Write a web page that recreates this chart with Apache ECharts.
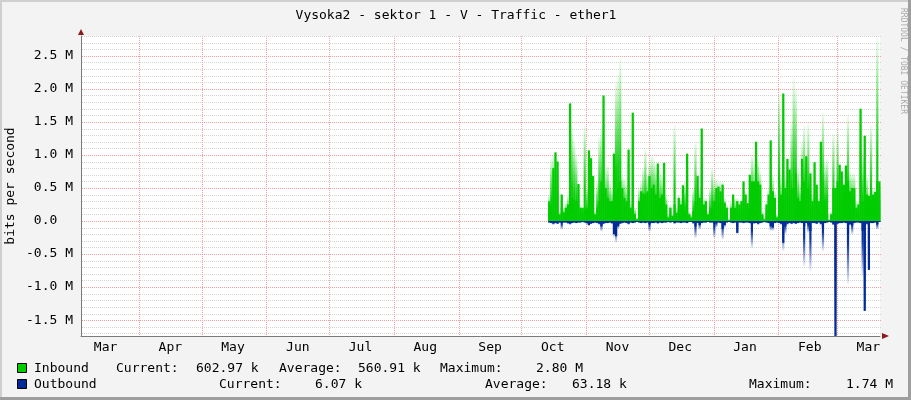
<!DOCTYPE html>
<html>
<head>
<meta charset="utf-8">
<title>Vysoka2 - sektor 1 - V - Traffic - ether1</title>
<script src="https://cdn.jsdelivr.net/npm/echarts@6/dist/echarts.min.js"></script>
<style>
    html, body { margin: 0; padding: 0; background: #f3f3f3; }
    #chart { width: 911px; height: 400px; }
</style>
</head>
<body>
<div id="chart"></div>
<script>
// x axis is counted in days from 1 March
const monthNames = ['Mar', 'Apr', 'May', 'Jun', 'Jul', 'Aug', 'Sep', 'Oct', 'Nov', 'Dec', 'Jan', 'Feb', 'Mar'];
const monthStartDays = [0, 31, 61, 92, 122, 153, 184, 214, 245, 275, 306, 337, 365];
const yTickValues = [-1.5, -1.0, -0.5, 0, 0.5, 1.0, 1.5, 2.0, 2.5];

const xStartDay = 3.25;
const xEndDay = 385.6;
const yMin = -1.74;
const yMax = 2.80;
const dataStartDay = 227.3; // first daily sample (mid October)

// values in Mbit/s, one per day
const inAvg = [
    0.30, 0.25, 0.80, 1.04, 0.90, 0.10, 0.40, 0.13, 0.20, 0.25,
    1.78, 0.35, 0.32, 0.30, 0.56, 0.20, 0.20, 0.17, 0.20, 1.07,
    0.95, 0.68, 0.10, 0.20, 0.30, 0.60, 1.90, 0.50, 0.35, 0.30,
    0.30, 1.02, 0.40, 0.50, 0.60, 0.50, 0.35, 0.30, 1.08, 0.20,
    1.64, 0.10, 0.02, 0.30, 0.45, 0.42, 0.40, 0.45, 0.68, 0.50,
    0.55, 0.40, 0.87, 0.35, 0.40, 0.88, 0.25, 0.05, 0.20, 0.08,
    0.25, 0.12, 0.35, 0.25, 0.54, 0.15, 1.02, 0.10, 0.05, 0.15,
    0.30, 0.68, 0.35, 1.40, 0.25, 0.30, 0.10, 0.15, 0.20, 0.30,
    0.50, 0.52, 0.45, 0.55, 0.28, 0.20, 0.02, 0.20, 0.40, 0.20,
    0.30, 0.25, 0.30, 0.60, 0.40, 0.27, 0.70, 0.60, 0.60, 1.20,
    0.60, 0.55, 0.10, 0.02, 0.25, 0.40, 1.22, 0.45, 0.35, 0.05,
    0.35, 0.40, 1.93, 0.50, 0.94, 0.78, 0.50, 0.50, 0.72, 0.35,
    0.30, 0.94, 0.60, 0.98, 0.50, 0.72, 0.30, 0.89, 0.55, 0.30,
    1.20, 0.30, 0.30, 0.10, 0.02, 0.10, 0.50, 0.50, 0.60, 0.85,
    0.75, 0.55, 0.84, 0.60, 0.45, 0.50, 0.50, 0.20, 0.25, 1.70,
    0.30, 1.29, 0.40, 0.38, 0.30, 0.40, 0.44, 0.60, 0.60
];
const inMax = [
    0.40, 0.95, 1.00, 1.05, 0.95, 0.15, 0.42, 0.20, 0.28, 0.40,
    1.78, 1.40, 1.20, 1.00, 0.57, 0.25, 0.22, 1.45, 0.50, 1.07,
    1.00, 0.70, 0.15, 0.60, 1.28, 1.40, 1.90, 0.80, 0.85, 0.60,
    0.50, 1.05, 2.10, 2.20, 2.47, 0.70, 0.65, 0.55, 1.10, 0.30,
    1.64, 0.20, 0.05, 0.50, 0.60, 0.80, 1.10, 0.70, 0.90, 1.00,
    0.95, 0.85, 0.90, 0.75, 0.70, 0.90, 0.40, 0.10, 0.25, 0.10,
    1.46, 0.20, 0.40, 0.35, 0.56, 0.60, 1.02, 0.15, 0.10, 0.50,
    1.20, 0.75, 0.50, 1.40, 0.35, 0.35, 0.15, 0.50, 0.80, 0.60,
    0.65, 0.60, 0.60, 0.60, 0.35, 0.25, 0.02, 0.30, 0.42, 0.35,
    0.35, 0.30, 0.35, 0.60, 0.45, 0.30, 0.70, 1.00, 0.90, 1.20,
    0.95, 0.75, 0.15, 0.05, 0.30, 0.50, 1.22, 0.70, 0.45, 0.10,
    1.94, 0.70, 1.93, 0.70, 0.95, 0.80, 1.50, 2.17, 2.00, 0.80,
    0.60, 1.20, 1.45, 1.00, 1.48, 0.75, 0.40, 0.90, 0.60, 0.35,
    1.20, 1.64, 0.90, 0.95, 0.02, 0.15, 1.33, 0.55, 1.38, 0.90,
    0.80, 0.60, 0.85, 1.60, 0.75, 0.72, 0.72, 0.30, 0.30, 1.70,
    1.00, 1.30, 0.70, 0.45, 1.46, 0.50, 0.50, 2.80, 0.62
];
const outAvg = [
    -0.02, -0.03, -0.04, -0.03, -0.04, -0.02, -0.03, -0.02, -0.02, -0.03,
    -0.04, -0.03, -0.02, -0.03, -0.02, -0.02, -0.01, -0.02, -0.03, -0.06,
    -0.04, -0.03, -0.02, -0.03, -0.04, -0.08, -0.04, -0.03, -0.03, -0.02,
    -0.03, -0.20, -0.23, -0.08, -0.04, -0.03, -0.02, -0.03, -0.04, -0.02,
    -0.03, -0.02, -0.01, -0.02, -0.03, -0.02, -0.03, -0.02, -0.05, -0.03,
    -0.03, -0.02, -0.03, -0.02, -0.03, -0.02, -0.02, -0.01, -0.02, -0.01,
    -0.03, -0.02, -0.02, -0.03, -0.02, -0.02, -0.03, -0.01, -0.01, -0.03,
    -0.08, -0.03, -0.06, -0.03, -0.02, -0.02, -0.01, -0.02, -0.02, -0.04,
    -0.03, -0.02, -0.03, -0.12, -0.06, -0.02, -0.01, -0.02, -0.03, -0.02,
    -0.18, -0.02, -0.02, -0.03, -0.02, -0.02, -0.03, -0.05, -0.03, -0.03,
    -0.04, -0.03, -0.02, -0.01, -0.02, -0.03, -0.08, -0.10, -0.03, -0.02,
    -0.03, -0.04, -0.33, -0.08, -0.04, -0.03, -0.04, -0.03, -0.04, -0.03,
    -0.02, -0.03, -0.08, -0.03, -0.05, -0.15, -0.03, -0.03, -0.04, -0.02,
    -0.04, -0.10, -0.03, -0.02, -0.01, -0.02, -0.05, -1.74, -0.04, -0.03,
    -0.03, -0.02, -0.03, -0.20, -0.05, -0.06, -0.03, -0.02, -0.02, -0.03,
    -0.15, -1.36, -0.04, -0.74, -0.03, -0.03, -0.02, -0.05, -0.01
];
const outMax = [
    -0.03, -0.04, -0.06, -0.04, -0.05, -0.03, -0.13, -0.03, -0.03, -0.05,
    -0.06, -0.04, -0.03, -0.04, -0.03, -0.03, -0.02, -0.03, -0.05, -0.08,
    -0.05, -0.04, -0.03, -0.04, -0.06, -0.16, -0.05, -0.04, -0.04, -0.03,
    -0.05, -0.25, -0.33, -0.12, -0.05, -0.04, -0.03, -0.04, -0.06, -0.03,
    -0.04, -0.03, -0.02, -0.03, -0.04, -0.03, -0.04, -0.03, -0.16, -0.04,
    -0.04, -0.03, -0.05, -0.03, -0.04, -0.03, -0.03, -0.02, -0.03, -0.02,
    -0.05, -0.03, -0.03, -0.04, -0.03, -0.03, -0.04, -0.02, -0.02, -0.05,
    -0.26, -0.04, -0.13, -0.04, -0.03, -0.03, -0.02, -0.03, -0.03, -0.26,
    -0.10, -0.03, -0.04, -0.28, -0.10, -0.03, -0.02, -0.03, -0.04, -0.03,
    -0.20, -0.03, -0.03, -0.04, -0.03, -0.03, -0.04, -0.41, -0.05, -0.04,
    -0.06, -0.04, -0.03, -0.02, -0.03, -0.04, -0.15, -0.15, -0.04, -0.03,
    -0.04, -0.06, -0.46, -0.20, -0.06, -0.04, -0.05, -0.04, -0.05, -0.04,
    -0.03, -0.04, -0.69, -0.04, -0.18, -0.76, -0.04, -0.04, -0.05, -0.03,
    -0.06, -0.46, -0.04, -0.03, -0.02, -0.03, -0.07, -1.74, -0.05, -0.04,
    -0.04, -0.03, -0.04, -0.96, -0.07, -0.20, -0.04, -0.03, -0.03, -0.04,
    -0.84, -1.36, -0.06, -0.74, -0.04, -0.04, -0.03, -0.13, -0.02
];

// legend statistics as printed under the graph
const inStats = ['602.97 k', '560.91 k', '2.80 M'];
const outStats = ['6.07 k', '63.18 k', '1.74 M'];

const FONT = '"DejaVu Sans Mono", monospace';
const GREEN = '#00cc00';
const BLUE = '#002a97';
const MAJOR = '#f2a0a0';
const MINOR = '#d4d4d4';

const labelDays = monthStartDays.map(d => d + 15);
const toPoints = arr => arr.map((v, i) => [dataStartDay + i, v]);

// horizontal grid every 0.1 M (red on each 0.5 M), vertical grid on each month start
const hGrid = [];
for (let i = -17; i <= 28; i++) {
    hGrid.push([xStartDay, i / 10, i % 5 === 0 ? 1 : 0]);
}
const vGrid = monthStartDays.filter(d => d > xStartDay && d < xEndDay).map(d => [d, 0]);

const fadeUp = {
    type: 'linear', x: 0, y: 0, x2: 0, y2: 1,
    colorStops: [
        { offset: 0, color: 'rgba(0,204,0,0.04)' },
        { offset: 0.35, color: 'rgba(0,204,0,0.55)' },
        { offset: 0.65, color: 'rgba(0,204,0,0.95)' },
        { offset: 1, color: GREEN }
    ]
};
const fadeDown = {
    type: 'linear', x: 0, y: 0, x2: 0, y2: 1,
    colorStops: [
        { offset: 0, color: BLUE },
        { offset: 0.35, color: 'rgba(0,42,151,0.95)' },
        { offset: 0.65, color: 'rgba(0,42,151,0.55)' },
        { offset: 1, color: 'rgba(0,42,151,0.04)' }
    ]
};

function txt(text, x, y, extra) {
    return Object.assign({
        type: 'text', x: x, y: y, silent: true,
        style: { text: text, font: '13px ' + FONT, fill: '#000', textAlign: 'left', textVerticalAlign: 'middle' }
    }, extra || {});
}

const myChart = echarts.init(document.getElementById('chart'));

const option = {
    animation: false,
    backgroundColor: '#f3f3f3',
    grid: {
        left: 81, right: 31, top: 36, bottom: 64,
        show: true, backgroundColor: '#ffffff', borderWidth: 0
    },
    xAxis: {
        type: 'value',
        min: xStartDay,
        max: xEndDay,
        axisLine: { show: true, onZero: false, lineStyle: { color: '#7a7a7a', width: 1 } },
        axisTick: { show: false },
        splitLine: { show: false },
        axisLabel: {
            customValues: labelDays,
            margin: 5,
            fontFamily: FONT,
            fontSize: 13,
            color: '#000',
            formatter: v => monthNames[labelDays.indexOf(v)]
        }
    },
    yAxis: {
        type: 'value',
        min: yMin,
        max: yMax,
        axisLine: { show: true, onZero: false, lineStyle: { color: '#7a7a7a', width: 1 } },
        axisTick: { show: false },
        splitLine: { show: false },
        axisLabel: {
            customValues: yTickValues,
            margin: 8,
            fontFamily: FONT,
            fontSize: 13,
            color: '#000',
            formatter: v => v === 0 ? '0.0  ' : v.toFixed(1) + ' M'
        }
    },
    series: [
        {
            name: 'hgrid',
            type: 'custom',
            silent: true,
            z: 1,
            data: hGrid,
            renderItem: function (params, api) {
                const a = api.coord([xStartDay, api.value(1)]);
                const b = api.coord([xEndDay, api.value(1)]);
                const y = Math.round(a[1]) + 0.5;
                return {
                    type: 'line',
                    shape: { x1: a[0] + 1, y1: y, x2: b[0] + 2, y2: y },
                    style: { stroke: api.value(2) ? MAJOR : MINOR, lineWidth: 1, lineDash: [1, 1] }
                };
            }
        },
        {
            name: 'vgrid',
            type: 'custom',
            silent: true,
            z: 1,
            data: vGrid,
            renderItem: function (params, api) {
                const a = api.coord([api.value(0), yMax]);
                const b = api.coord([api.value(0), yMin]);
                const x = Math.round(a[0]) + 0.5;
                return {
                    type: 'line',
                    shape: { x1: x, y1: a[1], x2: x, y2: b[1] },
                    style: { stroke: MAJOR, lineWidth: 1, lineDash: [1, 1] }
                };
            }
        },
        {
            name: 'Inbound max',
            type: 'bar',
            data: toPoints(inMax),
            barWidth: 2.2,
            barGap: '-100%',
            itemStyle: { color: fadeUp },
            z: 2
        },
        {
            name: 'Inbound',
            type: 'bar',
            data: toPoints(inAvg),
            barWidth: 2.2,
            barGap: '-100%',
            itemStyle: { color: GREEN },
            z: 3
        },
        {
            name: 'Outbound max',
            type: 'bar',
            data: toPoints(outMax),
            barWidth: 2.2,
            barGap: '-100%',
            itemStyle: { color: fadeDown },
            z: 2
        },
        {
            name: 'Outbound',
            type: 'bar',
            data: toPoints(outAvg),
            barWidth: 2.2,
            barGap: '-100%',
            itemStyle: { color: BLUE },
            z: 3
        }
    ],
    graphic: [
        // frame
        { type: 'rect', shape: { x: 0, y: 0, width: 911, height: 2 }, style: { fill: '#cfcfcf' }, silent: true },
        { type: 'rect', shape: { x: 0, y: 0, width: 2, height: 400 }, style: { fill: '#cfcfcf' }, silent: true },
        { type: 'rect', shape: { x: 0, y: 397, width: 911, height: 3 }, style: { fill: '#9e9e9e' }, silent: true },
        { type: 'rect', shape: { x: 908, y: 0, width: 3, height: 400 }, style: { fill: '#9e9e9e' }, silent: true },
        // axis arrows
        { type: 'polygon', shape: { points: [[78, 35], [84, 35], [81, 29]] }, style: { fill: '#8b1a1a' }, silent: true },
        { type: 'polygon', shape: { points: [[882, 333], [882, 339], [889, 336]] }, style: { fill: '#8b1a1a' }, silent: true },
        // title, axis name, watermark
        txt('Vysoka2 - sektor 1 - V - Traffic - ether1', 456, 16, {}),
        txt('bits per second', 11, 186, { rotation: Math.PI / 2 }),
        {
            type: 'text', x: 903, y: 8, rotation: -Math.PI / 2, silent: true,
            style: { text: 'RRDTOOL / TOBI OETIKER', font: '8px ' + FONT, fill: '#aaaaaa', textAlign: 'left', textVerticalAlign: 'middle' }
        },
        // legend swatches
        { type: 'rect', shape: { x: 17.5, y: 363.5, width: 9, height: 9 }, style: { fill: GREEN, stroke: '#000', lineWidth: 1 }, silent: true },
        { type: 'rect', shape: { x: 17.5, y: 379.5, width: 9, height: 9 }, style: { fill: BLUE, stroke: '#000', lineWidth: 1 }, silent: true },
        txt('Inbound', 34, 368.5),
        txt('Current:', 116, 368.5),
        txt(inStats[0], 196, 368.5),
        txt('Average:', 279, 368.5),
        txt(inStats[1], 358, 368.5),
        txt('Maximum:', 440, 368.5),
        txt(inStats[2], 536, 368.5),
        txt('Outbound', 34, 384.5),
        txt('Current:', 219, 384.5),
        txt(outStats[0], 315, 384.5),
        txt('Average:', 485, 384.5),
        txt(outStats[1], 572, 384.5),
        txt('Maximum:', 749, 384.5),
        txt(outStats[2], 846, 384.5)
    ]
};
// centre the title and the axis name
option.graphic[6].style.textAlign = 'center';
option.graphic[7].style.textAlign = 'center';

myChart.setOption(option);

window.addEventListener('resize', function () {
    myChart.resize();
});
</script>
</body>
</html>
